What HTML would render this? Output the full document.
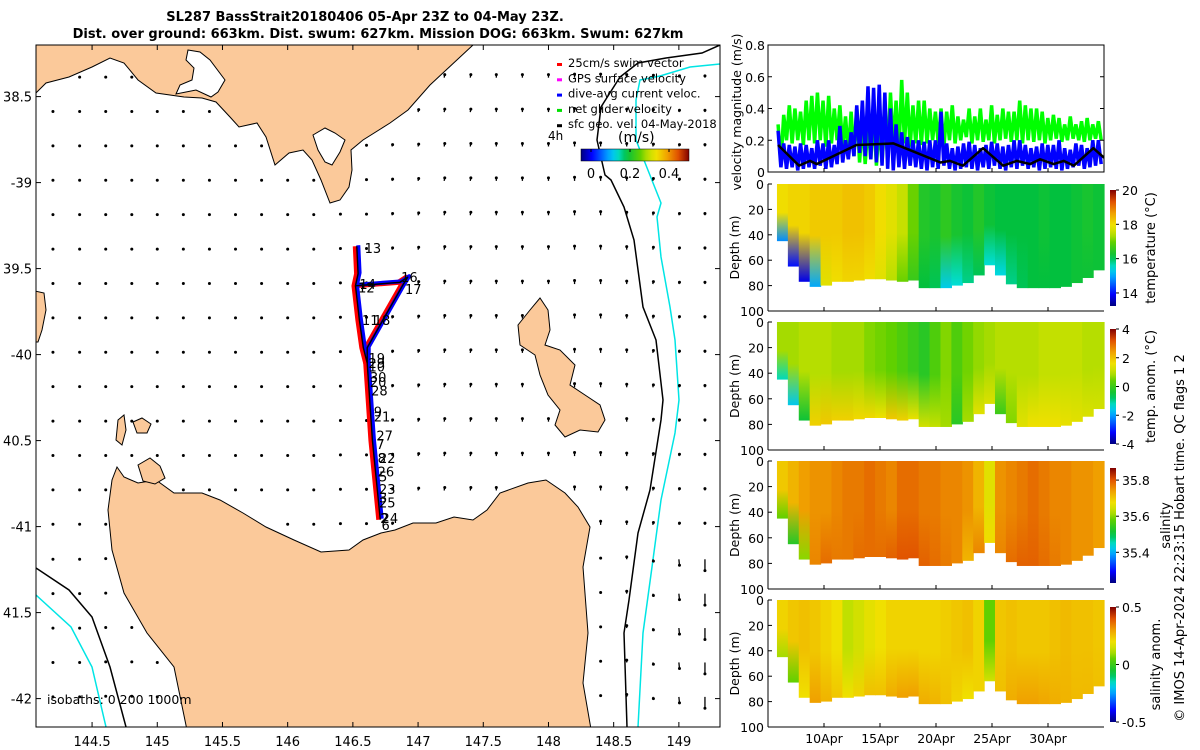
<!DOCTYPE html>
<html><head><meta charset="utf-8"><title>SL287 BassStrait</title>
<style>
html,body{margin:0;padding:0;background:#fff;}
svg{display:block;font-family:"DejaVu Sans","Liberation Sans",sans-serif;}
</style></head>
<body>
<svg id="fig" width="1200" height="750" viewBox="0 0 1200 750" xmlns="http://www.w3.org/2000/svg">
<text x="365" y="21" text-anchor="middle" font-size="13" font-weight="bold">SL287 BassStrait20180406 05-Apr 23Z to 04-May 23Z.</text>
<text x="378" y="38" text-anchor="middle" font-size="13" font-weight="bold">Dist. over ground: 663km. Dist. swum: 627km. Mission DOG: 663km. Swum: 627km</text>
<defs>
<clipPath id="mapclip"><rect x="36" y="45" width="684" height="682"/></clipPath>
<clipPath id="vclip"><rect x="768" y="45" width="336" height="127"/></clipPath>
</defs>
<g id="map"></g>
<g id="panels"></g>
</svg>
<script>
const NS='http://www.w3.org/2000/svg';
const svg=document.getElementById('fig');
// ---------- data: map ----------
const trackLon=[146.53,146.54,146.52,146.86,146.92,146.88,146.61,146.61,146.65,146.68,146.71];
const trackLat=[-39.37,-39.53,-39.60,-39.58,-39.55,-39.60,-39.96,-40.05,-40.50,-40.73,-40.96];
const legLon=[146.52,146.55,146.58,146.61];
const legLat=[-39.60,-39.80,-39.96,-40.05];
const arrowLons=[144.2,144.4,144.6,144.8,145.0,145.2,145.4,145.6,145.8,146.0,146.2,146.4,146.6,146.8,147.0,147.2,147.4,147.6,147.8,148.0,148.2,148.4,148.6,148.8,149.0,149.2];
const arrowLats=[-38.39,-38.59,-38.79,-38.99,-39.19,-39.39,-39.59,-39.79,-39.99,-40.19,-40.39,-40.59,-40.79,-40.99,-41.19,-41.39,-41.59,-41.79,-41.99];
const vNorthBand=[0.01,0.01,0.01,0.01,0.01,0.01,0.01,0.01,0.01,0.01,0.01,0.02,0.02,0.03,0.04,0.05,0.05,0.05,0.05,0.05,0.06,0.06,0.05,0.04,0.03,0.03];
const vSouthBand=[0.0,0.0,0.01,0.01,0.0,0.0,0.0,0.0,0.0,0.0,0.0,0.0,0.01,0.01,0.01,0.02,0.02,0.02,0.02,0.02,0.02,0.02,0.04,-0.03,-0.10,-0.19];
const uAll=[0.0,0.01,0.01,0.01,0.0,0.0,0.0,0.0,0.0,0.0,0.0,0.01,0.01,0.01,0.01,0.01,0.01,0.0,0.0,0.0,0.0,0.0,0.0,0.01,0.01,0.0];
const latTicks=[-38.5,-39,-39.5,-40,-40.5,-41,-41.5,-42];
const latTickLabels=['38.5','-39','39.5','-40','40.5','-41','41.5','-42'];
const lonTicks=[144.5,145,145.5,146,146.5,147,147.5,148,148.5,149];
const trackLabelText=['13','14','12','16','17','11','18','19','29','10','30','20','28','9','21','27','7','8','22','26','5','23','3','25','2','24','6'];
const trackLabelLat=[-39.38,-39.59,-39.61,-39.55,-39.62,-39.80,-39.80,-40.02,-40.05,-40.07,-40.13,-40.16,-40.21,-40.33,-40.36,-40.47,-40.52,-40.6,-40.6,-40.68,-40.71,-40.78,-40.83,-40.86,-40.95,-40.95,-40.99];
const trackLabelLon=[146.59,146.55,146.54,146.87,146.90,146.57,146.66,146.62,146.62,146.62,146.63,146.63,146.64,146.66,146.66,146.68,146.68,146.69,146.70,146.69,146.70,146.70,146.70,146.70,146.71,146.72,146.72];
// ---------- data: time series ----------
const greenHi=[0.30,0.36,0.42,0.40,0.38,0.45,0.48,0.50,0.45,0.48,0.40,0.42,0.35,0.38,0.40,0.32,0.30,0.35,0.30,0.33,0.50,0.45,0.58,0.50,0.42,0.45,0.45,0.40,0.38,0.40,0.38,0.42,0.35,0.33,0.40,0.35,0.40,0.33,0.42,0.36,0.40,0.38,0.38,0.45,0.42,0.40,0.40,0.38,0.34,0.36,0.34,0.30,0.35,0.30,0.32,0.34,0.30,0.32];
const greenLo=[0.05,0.20,0.18,0.20,0.17,0.20,0.18,0.20,0.16,0.18,0.20,0.15,0.12,0.10,0.06,0.05,0.08,0.04,0.06,0.10,0.15,0.12,0.18,0.16,0.18,0.17,0.18,0.20,0.18,0.15,0.20,0.18,0.20,0.22,0.18,0.20,0.19,0.20,0.18,0.20,0.21,0.19,0.20,0.18,0.20,0.19,0.20,0.18,0.20,0.21,0.19,0.20,0.21,0.20,0.19,0.20,0.21,0.20];
const blueHi=[0.26,0.18,0.17,0.16,0.18,0.17,0.15,0.20,0.18,0.20,0.17,0.29,0.20,0.25,0.42,0.45,0.54,0.53,0.55,0.50,0.40,0.30,0.25,0.22,0.20,0.20,0.19,0.20,0.20,0.38,0.18,0.15,0.16,0.18,0.19,0.17,0.15,0.17,0.19,0.18,0.16,0.17,0.20,0.20,0.17,0.15,0.16,0.18,0.17,0.17,0.20,0.15,0.14,0.18,0.17,0.15,0.20,0.20];
const blueLo=[0.03,0.02,0.03,0.01,0.02,0.03,0.02,0.04,0.02,0.03,0.05,0.06,0.08,0.10,0.12,0.10,0.08,0.06,0.04,0.02,0.01,0.03,0.02,0.04,0.03,0.02,0.01,0.03,0.02,0.04,0.02,0.01,0.02,0.03,0.02,0.01,0.03,0.02,0.04,0.02,0.01,0.03,0.02,0.04,0.02,0.03,0.01,0.02,0.03,0.02,0.01,0.02,0.03,0.04,0.02,0.03,0.04,0.05];
const sfcDays=[5.9,7.77,8.75,9.35,10.83,12.9,16.2,18.3,20.4,21.25,22.4,24.2,26.0,27.2,28.4,29.3,30.5,31.4,32.3,34.05,35.0];
const sfcVel=[0.17,0.04,0.07,0.05,0.10,0.17,0.18,0.12,0.06,0.07,0.04,0.15,0.04,0.07,0.05,0.08,0.05,0.07,0.04,0.15,0.09];
const dayTicks=[10,15,20,25,30];
const dayTickLabels=['10Apr','15Apr','20Apr','25Apr','30Apr'];
const bottomDepth=[45,65,77,81,80,77,77,76,75,75,76,77,76,82,82,82,80,78,72,64,72,79,82,82,82,82,81,78,74,68];
const tempTop=[18.0,18.1,18.1,18.2,18.2,18.2,18.3,18.3,18.2,18.0,17.8,17.5,17.0,16.4,16.3,16.5,16.3,16.2,16.4,16.2,16.1,16.1,16.1,16.1,16.2,16.1,16.1,16.2,16.3,16.2];
const tempBot=[14.8,14.0,13.8,15.0,17.8,18.0,18.1,18.1,18.0,17.8,17.4,17.0,16.6,16.1,16.0,15.3,15.5,15.8,16.0,15.5,15.4,15.8,16.0,16.1,16.1,16.1,16.1,16.2,16.2,16.2];
const anomTop=[0.8,0.8,0.9,0.9,0.9,0.8,0.8,0.8,0.6,0.5,0.4,0.2,0.0,-0.2,0.2,0.6,0.2,0.5,0.7,0.8,0.9,0.9,0.9,0.9,1.0,1.0,1.0,1.0,0.9,0.9];
const anomBot=[-1.2,-1.6,-0.5,1.8,1.9,1.8,1.8,1.7,1.7,1.6,1.9,1.8,1.5,1.2,1.0,0.8,-0.2,0.8,1.4,1.3,0.0,0.6,1.4,1.6,1.6,1.6,1.5,1.4,1.3,1.2];
const salTop=[35.70,35.72,35.74,35.75,35.75,35.76,35.77,35.77,35.78,35.77,35.76,35.78,35.78,35.77,35.77,35.76,35.76,35.75,35.72,35.66,35.75,35.76,35.77,35.78,35.77,35.76,35.76,35.75,35.75,35.74];
const salBot=[35.58,35.53,35.60,35.76,35.78,35.77,35.77,35.78,35.78,35.78,35.79,35.80,35.80,35.79,35.78,35.77,35.76,35.72,35.76,35.68,35.76,35.78,35.79,35.79,35.78,35.77,35.76,35.75,35.75,35.74];
const salAnTop=[0.22,0.24,0.25,0.24,0.22,0.20,0.12,0.15,0.18,0.20,0.22,0.22,0.22,0.22,0.22,0.23,0.24,0.25,0.22,0.05,0.24,0.25,0.24,0.24,0.24,0.25,0.26,0.25,0.25,0.24];
const salAnBot=[0.10,0.05,0.20,0.30,0.27,0.24,0.20,0.22,0.25,0.25,0.28,0.30,0.30,0.28,0.27,0.25,0.22,0.20,0.22,0.15,0.25,0.28,0.30,0.30,0.29,0.28,0.27,0.26,0.26,0.25];

function el(tag,attrs,parent){const e=document.createElementNS(NS,tag);for(const k in attrs)e.setAttribute(k,attrs[k]);(parent||svg).appendChild(e);return e;}
function txt(s,attrs,parent){const e=el('text',attrs,parent);e.textContent=s;return e;}
const cstops=[[0,[0,0,127]],[0.1,[0,0,255]],[0.25,[0,160,255]],[0.33,[0,224,224]],[0.42,[0,192,64]],[0.55,[96,208,0]],[0.62,[192,224,0]],[0.7,[240,224,0]],[0.8,[240,160,0]],[0.9,[224,80,0]],[1,[128,0,0]]];
function cmap(t){t=Math.max(0,Math.min(1,t));for(let i=1;i<cstops.length;i++){if(t<=cstops[i][0]){const a=cstops[i-1],b=cstops[i];const f=(t-a[0])/(b[0]-a[0]);const c=a[1].map((v,j)=>Math.round(v+(b[1][j]-v)*f));return 'rgb('+c.join(',')+')';}}return 'rgb(128,0,0)';}
const defs=svg.querySelector('defs');
let gid=0;
function vgrad(cols){const id='g'+(gid++);const g=el('linearGradient',{id:id,x1:0,y1:0,x2:0,y2:1},defs);cols.forEach(c=>el('stop',{offset:c[0],'stop-color':c[1]},g));return 'url(#'+id+')';}
function hgrad(){const id='g'+(gid++);const g=el('linearGradient',{id:id,x1:0,y1:0,x2:1,y2:0},defs);for(let i=0;i<=20;i++)el('stop',{offset:i/20,'stop-color':cmap(i/20)},g);return 'url(#'+id+')';}
function vgradBar(){const id='g'+(gid++);const g=el('linearGradient',{id:id,x1:0,y1:1,x2:0,y2:0},defs);for(let i=0;i<=20;i++)el('stop',{offset:i/20,'stop-color':cmap(i/20)},g);return 'url(#'+id+')';}

// ================= MAP =================
const map=document.getElementById('map');
const MX0=36,MX1=720,MY0=45,MY1=727;
const lonMin=144.07,lonMax=144.07+(MX1-MX0)/130.4,latMax=-38.2,latMin=-38.2-(MY1-MY0)/172;
function lx(lon){return MX0+(lon-lonMin)/(lonMax-lonMin)*(MX1-MX0);}
function ly(lat){return MY0+(latMax-lat)/(latMax-latMin)*(MY1-MY0);}
const mg=el('g',{'clip-path':'url(#mapclip)'},map);
function poly(pts,fill,name,parent){const p=el('path',{d:'M'+pts.map(q=>q.join(',')).join('L')+'Z',fill:fill,stroke:'#000','stroke-width':1},parent||mg);return p;}
const landFill='#fbc99a';
const landShapes=[];
landShapes.push(poly([[30,40],[480,40],[473,45],[430,85],[408,110],[390,123],[363,140],[351,150],[352,170],[349,187],[340,200],[330,203],[321,180],[312,160],[303,150],[289,153],[275,165],[266,137],[257,123],[239,127],[230,117],[216,102],[202,98],[184,97],[156,93],[138,80],[124,63],[110,58],[92,67],[69,77],[46,83],[36,93],[30,95]],landFill,'victoria-coast'));
poly([[188,50],[200,52],[210,60],[225,80],[218,92],[211,97],[196,90],[186,92],[176,94],[180,85],[192,80],[194,68],[186,60]],'#fff','western-port-bay');
poly([[313,135],[325,128],[335,133],[345,140],[340,152],[332,165],[325,162],[318,150]],'#fff','corner-inlet');
landShapes.push(poly([[518,325],[530,310],[540,298],[548,310],[550,330],[545,345],[560,350],[575,365],[570,385],[585,395],[600,405],[605,420],[598,432],[580,430],[565,437],[555,425],[560,410],[548,395],[540,375],[535,355],[520,345]],landFill,'flinders-island'));
landShapes.push(poly([[108,510],[112,480],[117,467],[124,477],[138,483],[156,480],[174,493],[202,493],[220,500],[243,513],[266,527],[294,540],[321,552],[349,550],[363,540],[381,533],[395,530],[413,523],[436,523],[454,517],[473,520],[487,510],[500,493],[528,483],[546,480],[565,493],[578,507],[590,527],[583,567],[588,633],[583,683],[592,735],[188,735],[174,667],[147,633],[124,593],[112,550]],landFill,'tasmania'));
landShapes.push(poly([[138,465],[150,458],[160,466],[165,478],[155,484],[143,481]],landFill,'hunter-island'));
landShapes.push(poly([[133,422],[142,418],[151,424],[147,433],[137,433]],landFill,'three-hummock-island'));
landShapes.push(poly([[30,290],[44,293],[46,310],[42,330],[38,342],[30,342]],landFill,'king-island-edge'));
landShapes.push(poly([[118,420],[124,415],[126,430],[122,445],[116,440]],landFill,'robbins-island'));
function line(pts,color,name,w){const p=el('polyline',{points:pts.map(q=>q.join(',')).join(' '),fill:'none',stroke:color,'stroke-width':w||1.5},mg);return p;}
line([[720,45],[702,53],[666,58],[638,63],[620,77],[601,107],[597,140],[605,175],[611,180],[624,207],[634,240],[643,307],[656,340],[663,400],[661,420],[650,490],[638,533],[629,600],[624,633],[627,727]],'#000','isobath-200m-east');
line([[720,64],[690,67],[660,76],[640,80],[636,100],[636,140],[661,203],[657,217],[661,257],[670,307],[675,340],[679,400],[675,433],[661,500],[652,567],[643,633],[638,727]],'#00e5e5','isobath-1000m-east');
line([[36,568],[69,590],[92,617],[110,667],[126,727]],'#000','isobath-200m-west');
line([[36,595],[71,627],[92,667],[106,727]],'#00e5e5','isobath-1000m-west');
const ag=el('g',{},mg);
const ascale=60;
arrowLats.forEach((lat,ri)=>{arrowLons.forEach((lon,ci)=>{
  const x=lx(lon),y=ly(lat);
  const onLand=landShapes.some(s=>{try{return s.isPointInFill(new DOMPoint(x,y));}catch(e){return false;}});
  if(onLand)return;
  const v=lat>-41.1?vNorthBand[ci]:vSouthBand[ci];
  const u=uAll[ci];
  const x2=x+u*ascale,y2=y-v*ascale;
  const a=el('g',{},ag);
  
  
  el('line',{x1:x,y1:y,x2:x2,y2:y2,stroke:'#000','stroke-width':1.3},a);
  el('circle',{cx:x2,cy:y2,r:1.5,fill:'#000'},a);
});});
function trackPath(lons,lats,dx,dy){return 'M'+lons.map((l,i)=>(lx(l)+dx)+','+(ly(lats[i])+dy)).join('L');}
const tg=el('g',{},mg);
[['#ff0000',5,-1.5,0,'swim-vector-track'],['#0000ff',4,1.5,-1,'dive-avg-current-track'],['#000',1.4,0,0,'glider-track-line']].forEach(s=>{
  const p1=el('path',{d:trackPath(trackLon,trackLat,s[2],s[3]),fill:'none',stroke:s[0],'stroke-width':s[1],'stroke-linejoin':'round'},tg);
  
  const p2=el('path',{d:trackPath(legLon,legLat,s[2],s[3]),fill:'none',stroke:s[0],'stroke-width':s[1],'stroke-linejoin':'round'},tg);
  
});
trackLabelText.forEach((t,i)=>{const e=txt(t,{x:lx(trackLabelLon[i]),y:ly(trackLabelLat[i])+5,'font-size':13,fill:'#000'},tg);});
const leg=el('g',{'font-size':11.5},map);

[['25cm/s swim vector','#ff0000'],['GPS surface velocity','#ff00ff'],['dive-avg current veloc.','#0000ff'],['net glider velocity','#00e000'],['sfc geo. vel. 04-May-2018','#000']].forEach((e,i)=>{
  const y=62+i*15.3;
  const g=el('g',{},leg);
  el('rect',{x:557,y:y+1,width:5,height:3,fill:e[1]},g);
  txt(e[0],{x:568,y:y+5},g);
});
txt('4h',{x:548,y:140,'font-size':12},map);
txt('(m/s)',{x:618,y:142,'font-size':14},map);
const mcb=el('rect',{x:581,y:149,width:108,height:12,fill:hgrad(),stroke:'#000','stroke-width':0.5},map);

[['0',591],['0.2',630],['0.4',669]].forEach(t=>{txt(t[0],{x:t[1],y:178,'font-size':13,'text-anchor':'middle'},map);el('line',{x1:t[1],y1:149,x2:t[1],y2:152,stroke:'#000'},map);});
txt('isobaths: 0  200  1000m',{x:47,y:704,'font-size':12.5,'xml:space':'preserve'},map);
const mf=el('rect',{x:MX0,y:MY0,width:MX1-MX0,height:MY1-MY0,fill:'none',stroke:'#000','stroke-width':1},map);

latTicks.forEach((v,i)=>{const y=ly(v);el('line',{x1:MX0,y1:y,x2:MX0+5,y2:y,stroke:'#000'},map);el('line',{x1:MX1,y1:y,x2:MX1-5,y2:y,stroke:'#000'},map);
  const t=txt(latTickLabels[i],{x:32,y:y+5,'font-size':13,'text-anchor':'end'},map);});
lonTicks.forEach(v=>{const x=lx(v);el('line',{x1:x,y1:MY1,x2:x,y2:MY1-5,stroke:'#000'},map);el('line',{x1:x,y1:MY0,x2:x,y2:MY0+5,stroke:'#000'},map);
  const t=txt(String(v),{x:x,y:746,'font-size':13,'text-anchor':'middle'},map);});

// ================= TIME PANELS =================
const P=document.getElementById('panels');
const PX0=768,PX1=1104,D0=5.0,D1=35.0;
function dx(d){return PX0+(d-D0)/(D1-D0)*(PX1-PX0);}
const VY0=45,VY1=172;
function vy(v){return VY1-v/0.8*(VY1-VY0);}
const vg=el('g',{'clip-path':'url(#vclip)'},P);

function zig(hi,lo){const n=hi.length;const step=(D1-5.9)/n;let pts=[];hi.forEach((h,i)=>{const t=5.9+i*step;pts.push([dx(t),vy(h)]);pts.push([dx(t+step/2),vy(lo[i])]);});return pts.map(p=>p.join(',')).join(' ');}
const gl=el('polyline',{points:zig(greenHi,greenLo),fill:'none',stroke:'#00ff00','stroke-width':3.5},vg);

const bl=el('polyline',{points:zig(blueHi,blueLo),fill:'none',stroke:'#0000ff','stroke-width':3.5},vg);

const kl=el('polyline',{points:sfcDays.map((d,i)=>dx(d)+','+vy(sfcVel[i])).join(' '),fill:'none',stroke:'#000','stroke-width':2.5,'stroke-linejoin':'round'},vg);

el('rect',{x:PX0,y:VY0,width:PX1-PX0,height:VY1-VY0,fill:'none',stroke:'#000'},P);
[0,0.2,0.4,0.6,0.8].forEach(v=>{const y=vy(v);el('line',{x1:PX0,y1:y,x2:PX0+4,y2:y,stroke:'#000'},P);el('line',{x1:PX1,y1:y,x2:PX1-4,y2:y,stroke:'#000'},P);
  const t=txt(String(v),{x:PX0-3,y:y+5,'font-size':12.5,'text-anchor':'end'},P);});
dayTicks.forEach(d=>{el('line',{x1:dx(d),y1:VY1,x2:dx(d),y2:VY1-4,stroke:'#000'},P);});
const vlab=txt('velocity magnitude (m/s)',{x:0,y:0,'font-size':12.5,'text-anchor':'middle',transform:'translate(741,112) rotate(-90)'},P);


function section(y0,y1,top,bot,vmin,vmax,cb0,cb1,ticks,tickLabels,label,labelX,name,showX){
  const g=el('g',{},P);
  const dy=v=>y0+v/100*(y1-y0);
  const n=top.length;const w=(D1-5.8)/n;
  top.forEach((tv,i)=>{
    const x=dx(5.8+i*w);const xr=dx(5.8+(i+1)*w);
    const fill=vgrad([[0,cmap((tv-vmin)/(vmax-vmin))],[0.5,cmap((tv-vmin)/(vmax-vmin))],[1,cmap((bot[i]-vmin)/(vmax-vmin))]]);
    const r=el('rect',{x:x,y:y0,width:xr-x+0.6,height:dy(bottomDepth[i])-y0,fill:fill},g);
    
    
  });
  el('line',{x1:PX0,y1:y0,x2:PX0,y2:y1,stroke:'#000'},g);
  el('line',{x1:PX0,y1:y1,x2:PX1,y2:y1,stroke:'#000'},g);
  [0,20,40,60,80,100].forEach(v=>{const y=dy(v);el('line',{x1:PX0,y1:y,x2:PX0+4,y2:y,stroke:'#000'},g);
    const t=txt(String(v),{x:PX0-4,y:y+5,'font-size':12.5,'text-anchor':'end'},g);});
  dayTicks.forEach((d,i)=>{el('line',{x1:dx(d),y1:y1,x2:dx(d),y2:y1-4,stroke:'#000'},g);
    if(showX){const t=txt(dayTickLabels[i],{x:dx(d),y:y1+16,'font-size':12.5,'text-anchor':'middle'},g);}});
  const dl=txt('Depth (m)',{x:0,y:0,'font-size':12.5,'text-anchor':'middle',transform:'translate('+739+','+((y0+y1)/2)+') rotate(-90)'},g);
  
  const cb=el('rect',{x:1110,y:cb0,width:6,height:cb1-cb0,fill:vgradBar()},g);
  
  ticks.forEach((v,i)=>{const y=cb1-(v-vmin)/(vmax-vmin)*(cb1-cb0);el('line',{x1:1116,y1:y,x2:1119,y2:y,stroke:'#000'},g);
    const t=txt(tickLabels[i],{x:1122,y:y+5,'font-size':12.5},g);});
  const cl=txt(label,{x:0,y:0,'font-size':13,'text-anchor':'middle',transform:'translate('+labelX+','+((cb0+cb1)/2)+') rotate(-90)'},g);
  
}
section(184,311,tempTop,tempBot,13.24,20.0,190,306,[14,16,18,20],['14','16','18','20'],'temperature (°C)',1155,'temperature-section',false);
section(322,450,anomTop,anomBot,-4,4,329,444,[-4,-2,0,2,4],['-4','-2','0','2','4'],'temp. anom. (°C)',1155,'temp-anomaly-section',false);
section(461,589,salTop,salBot,35.23,35.867,468,583,[35.4,35.6,35.8],['35.4','35.6','35.8'],'salinity',1170,'salinity-section',false);
section(600,727,salAnTop,salAnBot,-0.5,0.5,607,722,[-0.5,0,0.5],['-0.5','0','0.5'],'salinity anom.',1160,'salinity-anomaly-section',true);
const imos=txt('© IMOS 14-Apr-2024 22:23:15 Hobart time. QC flags 1  2',{x:0,y:0,'font-size':13,'text-anchor':'middle','xml:space':'preserve',transform:'translate(1184,538) rotate(-90)'},P);

</script>
</body></html>
